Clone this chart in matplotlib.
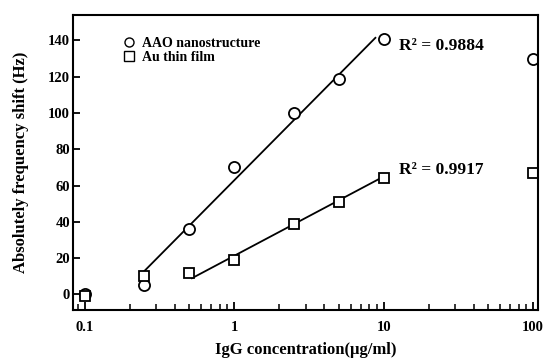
import numpy as np
import matplotlib
matplotlib.use('Agg')
import matplotlib.pyplot as plt
from matplotlib.ticker import FixedLocator, FixedFormatter, LogLocator, NullFormatter

plt.rcParams['font.family'] = ['Liberation Serif', 'DejaVu Serif']
plt.rcParams['font.weight'] = 'bold'

# IgG concentration (ug/ml)
conc = [0.1, 0.25, 0.5, 1, 2.5, 5, 10, 100]
aao_shift = [0, 5, 36, 70, 100, 119, 141, 130]
au_shift = [-1, 10, 12, 19, 39, 51, 64, 67]

# points used for the linear (log) fits
aao_fit_conc = [0.25, 0.5, 1, 2.5, 5, 10]
aao_fit_shift = [9, 36, 70, 100, 119, 143]
au_fit_conc = [0.5, 1, 2.5, 5, 10]
au_fit_shift = [10, 19, 39, 51, 66]
aao_r2 = 0.9884
au_r2 = 0.9917

fig = plt.figure(figsize=(5.44, 3.59), dpi=100)
ax = fig.add_axes([0.134, 0.137, 0.855, 0.821])

# regression lines, y = a + b*log10(x)
b1, a1 = np.polyfit(np.log10(aao_fit_conc), aao_fit_shift, 1)
xs1 = np.logspace(np.log10(0.25), np.log10(8.8), 50)
ax.plot(xs1, a1 + b1 * np.log10(xs1), color='black', lw=1.3)
b2, a2 = np.polyfit(np.log10(au_fit_conc), au_fit_shift, 1)
xs2 = np.logspace(np.log10(0.52), np.log10(10), 50)
ax.plot(xs2, a2 + b2 * np.log10(xs2), color='black', lw=1.3)

ax.plot(conc, aao_shift, 'o', ms=8, mfc='white', mec='black', mew=1.3,
        ls='none', label='AAO nanostructure')
ax.plot(conc, au_shift, 's', ms=7.5, mfc='white', mec='black', mew=1.3,
        ls='none', label='Au thin film')

ax.set_xscale('log')
ax.set_xlim(0.083, 108)
ax.set_ylim(-8.5, 154)

ax.xaxis.set_major_locator(FixedLocator([0.1, 1, 10, 100]))
ax.xaxis.set_major_formatter(FixedFormatter(['0.1', '1', '10', '100']))
ax.xaxis.set_minor_locator(LogLocator(base=10, subs=np.arange(2, 10)))
ax.xaxis.set_minor_formatter(NullFormatter())
ax.set_yticks([0, 20, 40, 60, 80, 100, 120, 140])

ax.tick_params(axis='x', which='major', direction='in', length=6, width=1.3,
               labelsize=10.5, pad=8, top=False)
ax.tick_params(axis='x', which='minor', direction='in', length=4, width=1.1, top=False)
ax.tick_params(axis='y', direction='in', length=5, width=1.3, labelsize=10.5,
               pad=2, right=False)
for s in ax.spines.values():
    s.set_linewidth(1.5)

ax.set_xlabel('IgG concentration(μg/ml)', fontsize=12, fontweight='bold', labelpad=6)
ax.set_ylabel('Absolutely frequency shift (Hz)', fontsize=12, fontweight='bold', labelpad=14)

ax.text(12.7, 137, f'R² = {aao_r2:.4f}', fontsize=12.5, fontweight='bold', va='center')
ax.text(12.7, 68.5, f'R² = {au_r2:.4f}', fontsize=12.5, fontweight='bold', va='center')

leg = ax.legend(loc='upper left', bbox_to_anchor=(0.088, 0.96), frameon=False,
                handlelength=0.8, handletextpad=0.5, borderaxespad=0.3,
                labelspacing=0.12, prop={'weight': 'bold', 'size': 10})
for h in leg.legend_handles:
    h.set_markersize(6.5)
    h.set_markeredgewidth(1)

fig.savefig('out.png', dpi=100)
